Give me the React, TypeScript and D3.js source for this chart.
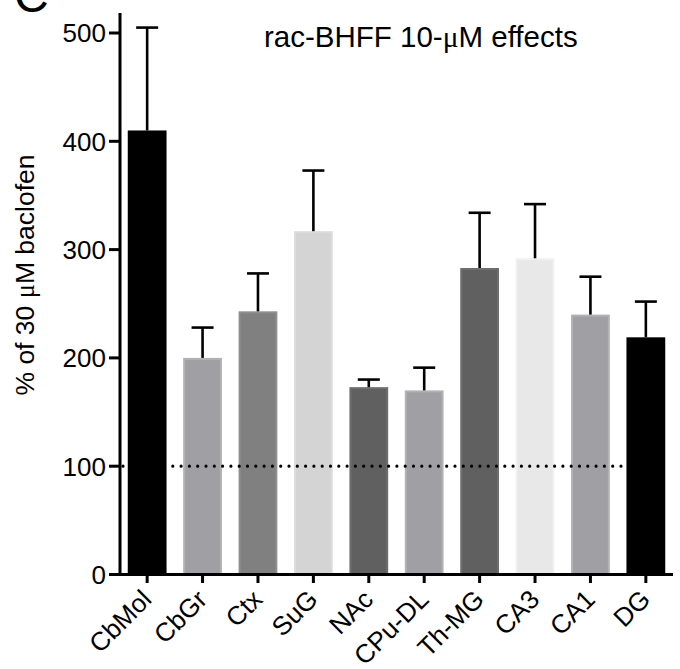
import React from "react";
import * as d3 from "d3";

const categories = ["CbMol", "CbGr", "Ctx", "SuG", "NAc", "CPu-DL", "Th-MG", "CA3", "CA1", "DG"];
const means = [410, 200, 243, 317, 173, 170, 283, 292, 240, 219];
const errTops = [505, 228, 278, 373, 180, 191, 334, 342, 275, 252];
const fills = ["#000000", "#a0a0a4", "#808080", "#d4d4d4", "#606060", "#a0a0a4", "#606060", "#e8e8e8", "#a0a0a4", "#000000"];
const edges = ["#000000", "#b2b2b4", "#8e8e8e", "#dcdcdc", "#6e6e6e", "#b2b2b4", "#6e6e6e", "#f0f0f0", "#b2b2b4", "#000000"];
const yTicks = [0, 100, 200, 300, 400, 500];
const refValue = 100;

const FONT = "'Liberation Sans', Arial, Helvetica, sans-serif";
const SERIF = "'Liberation Serif', 'DejaVu Serif', serif";

export default function App() {
  const W = 680, H = 669;
  const x0 = 120, x1 = 673;
  const y = d3.scaleLinear().domain([0, 500]).range([574.5, 33]);
  const x = d3.scaleBand<string>().domain(categories).range([x0, x1]).paddingInner(0.3).paddingOuter(0.14);
  const bw = x.bandwidth();
  const capW = 22;

  return (
    <svg width={W} height={H} style={{ position: "absolute", left: 0, top: 0, background: "#fff" }} fontFamily={FONT}>
      <rect width={W} height={H} fill="#fff" />
      <text x={14} y={12} fontSize={48} fill="#000">C</text>
      <text x={264} y={47} fontSize={29.5} fill="#000">
        rac-BHFF 10-<tspan fontFamily={SERIF}>μ</tspan>M effects
      </text>
      <text transform={`translate(34, 275) rotate(-90)`} textAnchor="middle" fontSize={26.5} fill="#000">
        % of 30 <tspan fontFamily={SERIF}>μ</tspan>M baclofen
      </text>

      {categories.map((c, i) => {
        const bx = x(c)!;
        const top = y(means[i]);
        const base = y(0);
        return (
          <g key={c}>
            <rect x={bx + 1} y={top + 1} width={bw - 2} height={base - top - 1} fill={fills[i]} stroke={edges[i]} strokeWidth={2} />
          </g>
        );
      })}

      <line x1={123} x2={622} y1={y(refValue)} y2={y(refValue)} stroke="#000" strokeWidth={3.2} strokeDasharray="0 8.3" strokeLinecap="round" />

      {categories.map((c, i) => {
        const cx = x(c)! + bw / 2;
        return (
          <g key={c + "e"} stroke="#000" strokeWidth={2.6}>
            <line x1={cx} x2={cx} y1={y(means[i])} y2={y(errTops[i])} />
            <line x1={cx - capW / 2} x2={cx + capW / 2} y1={y(errTops[i])} y2={y(errTops[i])} />
          </g>
        );
      })}

      {/* y axis */}
      <line x1={x0} x2={x0} y1={13} y2={576} stroke="#000" strokeWidth={3} />
      {yTicks.map((t) => (
        <g key={t}>
          <line x1={109} x2={x0} y1={y(t)} y2={y(t)} stroke="#000" strokeWidth={3} />
          <text x={106} y={y(t)} dy="0.36em" textAnchor="end" fontSize={26} fill="#000">{t}</text>
        </g>
      ))}

      {/* x axis */}
      <line x1={x0 - 1.5} x2={x1} y1={y(0)} y2={y(0)} stroke="#000" strokeWidth={3} />
      {categories.map((c) => {
        const cx = x(c)! + bw / 2;
        return (
          <g key={c + "t"}>
            <line x1={cx} x2={cx} y1={y(0)} y2={583} stroke="#000" strokeWidth={3} />
            <text transform={`translate(${cx + 6}, 601) rotate(-45)`} textAnchor="end" fontSize={26} fill="#000">{c}</text>
          </g>
        );
      })}
    </svg>
  );
}
